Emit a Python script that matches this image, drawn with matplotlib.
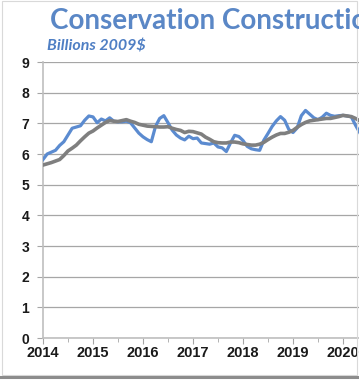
import numpy as np
import pandas as pd
import matplotlib
matplotlib.use('Agg')
import matplotlib.pyplot as plt
from matplotlib.patches import Rectangle
from matplotlib.lines import Line2D

# Monthly values, Jan 2014 onwards (billions 2009$)
monthly = [5.82, 6.00, 6.06, 6.12, 6.28, 6.40, 6.62, 6.84, 6.88, 6.92, 7.10, 7.24,
           7.21, 7.02, 7.14, 7.08, 7.18, 7.07, 7.05, 7.05, 7.07, 7.02, 6.85, 6.68,
           6.56, 6.47, 6.40, 6.90, 7.16, 7.25, 7.02, 6.78, 6.62, 6.52, 6.46, 6.58,
           6.50, 6.52, 6.36, 6.34, 6.32, 6.36, 6.23, 6.20, 6.08, 6.36, 6.61, 6.57,
           6.44, 6.25, 6.17, 6.14, 6.12, 6.45, 6.67, 6.90, 7.08, 7.22, 7.10, 6.80,
           6.70, 6.85, 7.25, 7.42, 7.30, 7.18, 7.12, 7.20, 7.33, 7.26, 7.23, 7.25,
           7.26, 7.24, 7.21, 6.94, 6.70]

# 12-month moving average (grey line)
trend = [5.64, 5.68, 5.72, 5.77, 5.82, 5.95, 6.10, 6.19, 6.29, 6.43, 6.56, 6.68,
         6.75, 6.85, 6.94, 7.03, 7.09, 7.07, 7.06, 7.09, 7.12, 7.07, 7.03, 6.97,
         6.94, 6.91, 6.90, 6.89, 6.88, 6.88, 6.89, 6.84, 6.80, 6.77, 6.70, 6.74,
         6.73, 6.69, 6.65, 6.55, 6.48, 6.40, 6.37, 6.36, 6.36, 6.39, 6.39, 6.37,
         6.33, 6.31, 6.29, 6.29, 6.32, 6.38, 6.47, 6.55, 6.62, 6.67, 6.67, 6.71,
         6.77, 6.87, 6.96, 7.03, 7.08, 7.10, 7.12, 7.14, 7.16, 7.16, 7.19, 7.22,
         7.26, 7.24, 7.22, 7.16, 7.08]

years = [2014, 2015, 2016, 2017, 2018, 2019, 2020]
yticks = [0, 1, 2, 3, 4, 5, 6, 7, 8, 9]

dates = pd.date_range('2014-01-01', periods=len(monthly), freq='MS')
t = dates.year + (dates.month - 1) / 12.0

fig = plt.figure(figsize=(3.59, 3.81), dpi=100)

# axes run past the right edge, like the cropped screenshot
ax = fig.add_axes([43 / 359, 43 / 381, 350 / 359, 276 / 381])
ax.plot(t, monthly, color='#5B8BD0', lw=2.3, solid_joinstyle='round', zorder=3)
ax.plot(t, trend, color='#7F7F7F', lw=2.6, solid_joinstyle='round', zorder=4)

ax.set_xlim(2014, 2021)
ax.set_ylim(0, 9)
ax.set_yticks(yticks)
ax.set_xticks(years)
ax.set_xticks(np.arange(2014.5, 2021, 1.0), minor=True)
ax.grid(axis='y', color='#A6A6A6', lw=0.9)
ax.set_axisbelow(True)

for s in ['top', 'right']:
    ax.spines[s].set_visible(False)
for s in ['left', 'bottom']:
    ax.spines[s].set_color('#BFBFBF')
    ax.spines[s].set_linewidth(1.2)

ax.tick_params(axis='y', length=4, color='#A6A6A6', labelsize=10, labelcolor='#1a1a1a', pad=6)
ax.tick_params(axis='x', which='major', length=4, color='#A6A6A6', labelsize=10.5, labelcolor='#1a1a1a', pad=2)
ax.tick_params(axis='x', which='minor', length=3, color='#A6A6A6')
for lab in ax.get_xticklabels() + ax.get_yticklabels():
    lab.set_family('Liberation Sans')
    lab.set_fontweight('bold')

fig.text(50 / 359, 1 - 21 / 381, 'Conservation Construction Spending', color='#5A87C6',
         fontsize=20, fontweight='bold', family='Lato', va='center', ha='left')
fig.text(47 / 359, 1 - 47 / 381, 'Billions 2009$', color='#4F7FC4',
         fontsize=11.5, fontweight='bold', style='italic', family='Lato', va='center', ha='left')

# frame and bottom shadow of the original chart box
fig.patches.append(Rectangle((2 / 359, 6 / 381), 355 / 359, 374 / 381, transform=fig.transFigure,
                             fill=False, edgecolor='#D9D9D9', lw=0.8))
fig.lines.append(Line2D([0, 1], [4 / 381, 4 / 381], transform=fig.transFigure,
                        color='#8C8C8C', lw=2.2))

fig.savefig('out.png', dpi=100)
